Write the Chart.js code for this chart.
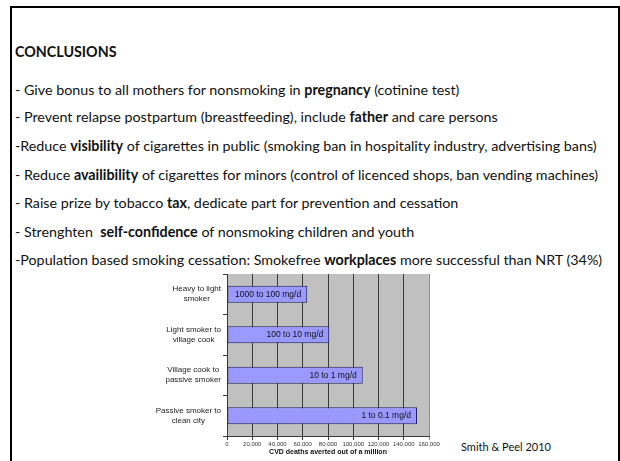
<!DOCTYPE html>
<html>
<head>
<meta charset="utf-8">
<script src="https://cdn.jsdelivr.net/npm/chart.js@4"></script>
<style>
  html, body { margin: 0; padding: 0; background: #fff; }
  body { width: 620px; height: 461px; position: relative; overflow: hidden; }
  #frame { position: absolute; left: 10px; top: 6px; width: 606px; height: 480px; border: 2px solid #000; }
  .ln { position: absolute; left: 15px; white-space: nowrap; font-family: Lato, "Open Sans", sans-serif; font-size: 14.3px; color: #111; line-height: 16px; }
  #src { position: absolute; left: 461px; top: 440px; font-family: Lato, sans-serif; font-size: 11px; color: #111; white-space: nowrap; }
  #chart { position: absolute; left: 130px; top: 266px; }
</style>
</head>
<body>
<div id="frame"></div>
<div class="ln" style="top:44px"><b>CONCLUSIONS</b></div>
<div class="ln" style="top:82px">- Give bonus to all mothers for nonsmoking in <b>pregnancy</b> (cotinine test)</div>
<div class="ln" style="top:109px">- Prevent relapse postpartum (breastfeeding), include <b>father</b> and care persons</div>
<div class="ln" style="top:138px">-Reduce <b>visibility</b> of cigarettes in public (smoking ban in hospitality industry, advertising bans)</div>
<div class="ln" style="top:167px">- Reduce <b>availibility</b> of cigarettes for minors (control of licenced shops, ban vending machines)</div>
<div class="ln" style="top:195px">- Raise prize by tobacco <b>tax</b>, dedicate part for prevention and cessation</div>
<div class="ln" style="top:224px">- Strenghten&nbsp; <b>self-confidence</b> of nonsmoking children and youth</div>
<div class="ln" style="top:252px">-Population based smoking cessation: Smokefree <b>workplaces</b> more successful than NRT (34%)</div>
<canvas id="chart" width="320" height="195"></canvas>
<div id="src">Smith &amp; Peel 2010</div>
<script>
// chart values
const categories = [
  ["Heavy to light", "smoker"],
  ["Light smoker to", "village cook"],
  ["Village cook to", "passive smoker"],
  ["Passive smoker to", "clean city"],
];
const deathsAverted = [63500, 81000, 107500, 150500];
const barLabels = ["1000 to 100 mg/d", "100 to 10 mg/d", "10 to 1 mg/d", "1 to 0.1 mg/d"];
const xTicks = [0, 20000, 40000, 60000, 80000, 100000, 120000, 140000, 160000];
const xTitle = "CVD deaths averted out of a million";

// gray plot background like the old excel chart
const plotBg = {
  id: "plotBg",
  beforeDraw(chart) {
    const { ctx, chartArea: a } = chart;
    ctx.save();
    ctx.fillStyle = "#c0c0c0";
    ctx.fillRect(a.left, a.top, a.right - a.left, a.bottom - a.top);
    ctx.restore();
  },
};

// two-line category names, centered on each other
const yLabels = {
  id: "yLabels",
  afterDraw(chart) {
    const ctx = chart.ctx;
    const scale = chart.scales.y;
    ctx.save();
    ctx.font = '8px "Liberation Sans", Arial, sans-serif';
    ctx.fillStyle = "#222";
    ctx.textAlign = "center";
    ctx.textBaseline = "middle";
    categories.forEach((lines, i) => {
      const w = Math.max(...lines.map((l) => ctx.measureText(l).width));
      const cx = scale.right - 6 - w / 2;
      const cy = scale.getPixelForTick(i);
      lines.forEach((l, j) => {
        ctx.fillText(l, cx, cy + (j - (lines.length - 1) / 2) * 10);
      });
    });
    ctx.restore();
  },
};

// labels inside the end of each bar
const barText = {
  id: "barText",
  afterDatasetsDraw(chart) {
    const ctx = chart.ctx;
    const meta = chart.getDatasetMeta(0);
    ctx.save();
    ctx.font = '8.5px "Liberation Sans", Arial, sans-serif';
    ctx.fillStyle = "#111";
    ctx.textBaseline = "middle";
    ctx.textAlign = "right";
    meta.data.forEach((bar, i) => {
      const w = ctx.measureText(barLabels[i]).width;
      const x = Math.max(bar.x - 6, bar.base + 4 + w);
      ctx.fillText(barLabels[i], x, bar.y);
    });
    ctx.restore();
  },
};

new Chart(document.getElementById("chart"), {
  type: "bar",
  data: {
    labels: categories,
    datasets: [
      {
        data: deathsAverted,
        backgroundColor: "#9999ff",
        borderColor: "#1e1e5a",
        borderWidth: 1,
        borderSkipped: false,
        barPercentage: 0.42,
        categoryPercentage: 1,
      },
    ],
  },
  options: {
    indexAxis: "y",
    responsive: false,
    animation: false,
    layout: { padding: { top: 8, right: 21, left: 0, bottom: 0 } },
    plugins: { legend: { display: false }, tooltip: { enabled: false } },
    scales: {
      x: {
        min: 0,
        max: 160000,
        afterBuildTicks: (s) => { s.ticks = xTicks.map((v) => ({ value: v })); },
        afterFit: (s) => { s.height = 25; },
        ticks: {
          font: { family: '"Liberation Sans", Arial', size: 6 },
          color: "#333",
          padding: 1,
          maxRotation: 0,
          callback: (v) => v.toLocaleString("en-US"),
        },
        grid: {
          color: (c) => (c.tick && c.tick.value === 160000 ? "#8c8c8c" : "#3a3a3a"),
          tickLength: 4,
        },
        border: { color: "#3a3a3a" },
        title: {
          display: true,
          text: xTitle,
          font: { family: '"Liberation Sans", Arial', size: 7, weight: "bold" },
          color: "#111",
          padding: { top: 0, bottom: 5 },
        },
      },
      y: {
        afterFit: (s) => { s.width = 97; },
        ticks: { display: false },
        grid: { drawOnChartArea: false, tickLength: 4, color: "#3a3a3a" },
        border: { color: "#3a3a3a" },
      },
    },
  },
  plugins: [plotBg, yLabels, barText],
});
</script>
</body>
</html>
